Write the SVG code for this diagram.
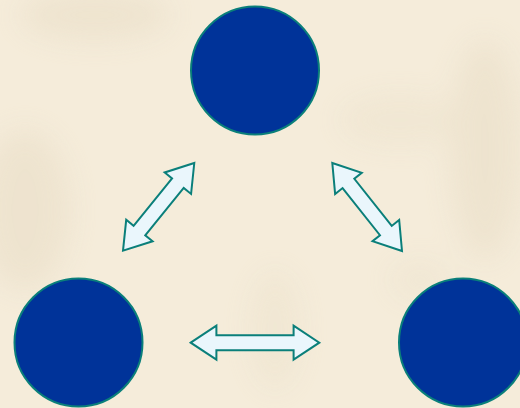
<svg xmlns="http://www.w3.org/2000/svg" width="520" height="408" viewBox="0 0 520 408">
  <defs>
    <filter id="blur" x="-50%" y="-50%" width="200%" height="200%">
      <feGaussianBlur stdDeviation="14"/>
    </filter>
    <style>
      .node { fill: #003399; stroke: #0a7f7a; stroke-width: 2; }
      .arrow { fill: #eaf6fc; stroke: #0a7f7a; stroke-width: 2; stroke-linejoin: miter; }
    </style>
  </defs>
  <rect width="520" height="408" fill="#f5ecda"/>
  <g id="background-stains" filter="url(#blur)" fill="#e6dac2" opacity="0.45">
    <ellipse cx="95" cy="15" rx="75" ry="25"/>
    <ellipse cx="25" cy="210" rx="45" ry="80"/>
    <ellipse cx="485" cy="150" rx="35" ry="110"/>
    <ellipse cx="400" cy="120" rx="60" ry="25" opacity="0.6"/>
    <ellipse cx="275" cy="330" rx="25" ry="60" opacity="0.6"/>
    <ellipse cx="420" cy="280" rx="30" ry="20" opacity="0.5"/>
  </g>
  <g id="node-top"><circle class="node" cx="255" cy="70.5" r="64"/></g>
  <g id="node-left"><circle class="node" cx="78.5" cy="342.5" r="64"/></g>
  <g id="node-right"><circle class="node" cx="463" cy="342.5" r="64"/></g>
  <g id="connectors">
    <path class="arrow" transform="translate(255 342.7)" d="M -64.3 0 L -38.6 -17 L -38.6 -7.5 L 38.6 -7.5 L 38.6 -17 L 64.3 0 L 38.6 17 L 38.6 7.5 L -38.6 7.5 L -38.6 17 Z"/>
    <path class="arrow" transform="translate(158.65 206.85) rotate(-50.9)" d="M -56.5 0 L -30.5 -17 L -30.5 -7.5 L 30.5 -7.5 L 30.5 -17 L 56.5 0 L 30.5 17 L 30.5 7.5 L -30.5 7.5 L -30.5 17 Z"/>
    <path class="arrow" transform="translate(367.15 207) rotate(51.6)" d="M -56.1 0 L -30.1 -17 L -30.1 -7.5 L 30.1 -7.5 L 30.1 -17 L 56.1 0 L 30.1 17 L 30.1 7.5 L -30.1 7.5 L -30.1 17 Z"/>
  </g>
</svg>
